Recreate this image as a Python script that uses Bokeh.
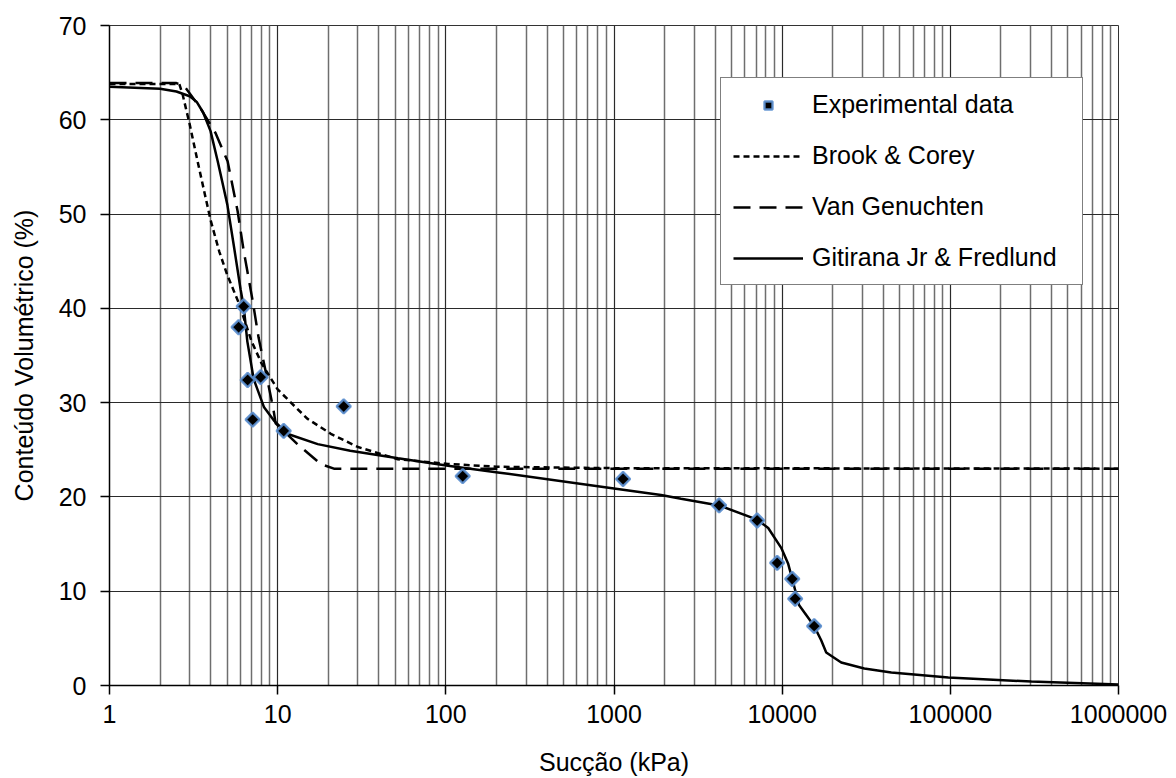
from bokeh.plotting import figure
from bokeh.models import (FixedTicker, NumeralTickFormatter, Legend, LegendItem,
                          Range1d, ColumnDataSource)
from bokeh.embed import file_html
from bokeh.resources import INLINE

# ---------------- data ----------------
exp_suction = [5.86, 6.28, 6.63, 7.1, 7.92, 10.86, 24.7, 126, 1132,
               4217, 7100, 9340, 11480, 11950, 15500]
exp_theta = [38.0, 40.2, 32.4, 28.2, 32.7, 27.0, 29.6, 22.2, 21.9,
             19.1, 17.5, 13.0, 11.3, 9.2, 6.3]

bc_suction = [1, 2.6, 2.72, 3.0, 3.34, 3.7, 4.0, 4.5, 5.0, 5.86, 7.0, 8.0,
              10, 15, 20.7, 30, 51.8, 103, 200, 1000, 1000000]
bc_theta = [63.8, 63.8, 62.7, 59.5, 55.6, 52.0, 49.3, 46.0, 43.6, 40.6, 36.5,
            34.2, 31.4, 28.3, 26.7, 25.3, 24.0, 23.5, 23.2, 23.05, 23.0]

vg_suction = [1, 2.5, 2.8, 3.0, 3.48, 4.27, 5.04, 5.78, 6.28, 7.1, 7.7, 8.72,
              9.47, 9.73, 13.1, 18.0, 21.6, 1000000]
vg_theta = [63.9, 63.9, 63.5, 62.8, 61.2, 58.6, 55.6, 50.3, 46.1, 40.8, 36.9,
            32.3, 29.1, 27.8, 25.6, 23.5, 23.0, 23.0]

gf_suction = [1, 2, 2.5, 3.0, 3.3, 3.6, 3.99, 4.4, 5.02, 5.47, 6.02, 6.28, 6.6,
              7.2, 8.3, 9.5, 11.4, 17.3, 27, 52, 103, 204, 1000, 1905, 2505,
              4217, 7100, 8260, 9870, 10860, 11480, 12620, 15500, 17060, 18280,
              22450, 30770, 44560, 97300, 303000, 1000000]
gf_theta = [63.5, 63.3, 63.0, 62.5, 61.9, 60.8, 58.8, 55.6, 51.0, 46.8, 42.0,
            40.2, 36.5, 32.5, 29.5, 28.1, 26.7, 25.6, 24.9, 24.1, 23.3, 22.6,
            20.9, 20.2, 19.8, 19.1, 17.6, 16.7, 14.6, 12.9, 11.3, 8.5, 6.3, 4.8,
            3.5, 2.44, 1.8, 1.38, 0.85, 0.42, 0.1]

x_major = [1, 10, 100, 1000, 10000, 100000, 1000000]
y_major = [0, 10, 20, 30, 40, 50, 60, 70]
legend_labels = ["Experimental data", "Brook & Corey", "Van Genuchten",
                 "Gitirana Jr & Fredlund"]

FONT = "Liberation Sans"
FS = "25px"

p = figure(width=1176, height=778, x_axis_type="log",
           x_range=Range1d(1, 1000000), y_range=Range1d(0, 70),
           output_backend="svg", toolbar_location=None,
           min_border_left=109, min_border_right=58,
           min_border_top=25, min_border_bottom=93)
p.background_fill_color = "white"
p.border_fill_color = "white"
p.outline_line_color = "#333333"
p.outline_line_width = 1

# ticks
minor = [k * d for d in x_major[:-1] for k in range(2, 10)]
p.xaxis.ticker = FixedTicker(ticks=x_major, minor_ticks=minor)
p.yaxis.ticker = FixedTicker(ticks=y_major)
p.xaxis.formatter = NumeralTickFormatter(format="0")

for ax in (p.xaxis[0], p.yaxis[0]):
    ax.major_label_text_font = FONT
    ax.major_label_text_font_size = FS
    ax.major_label_text_color = "#000000"
    ax.axis_label_text_font = FONT
    ax.axis_label_text_font_size = FS
    ax.axis_label_text_font_style = "normal"
    ax.axis_label_text_color = "#000000"
    ax.axis_line_color = "#000000"
    ax.axis_line_width = 1.5
    ax.major_tick_line_color = "#000000"
    ax.major_tick_line_width = 1.5
    ax.major_tick_in = 0
    ax.major_tick_out = 9
    ax.minor_tick_in = 0
    ax.minor_tick_out = 0

p.xaxis.axis_label = "Sucção (kPa)"
p.yaxis.axis_label = "Conteúdo Volumétrico (%)"
p.yaxis.major_label_standoff = 14
p.yaxis.axis_label_standoff = 18
p.xaxis.major_label_standoff = 10
p.xaxis.axis_label_standoff = 22

# grid
p.xgrid.grid_line_color = "#2a2a2a"
p.xgrid.grid_line_width = 1.2
p.xgrid.minor_grid_line_color = "#6e6e6e"
p.xgrid.minor_grid_line_width = 1.5
p.ygrid.grid_line_color = "#2a2a2a"
p.ygrid.grid_line_width = 1.2

# curves
r_bc = p.line(bc_suction, bc_theta, line_color="black", line_width=2.5,
              line_dash="6 4")
r_vg = p.line(vg_suction, vg_theta, line_color="black", line_width=2.5,
              line_dash="17 9")
r_gf = p.line(gf_suction, gf_theta, line_color="black", line_width=2.5)

src = ColumnDataSource(dict(x=exp_suction, y=exp_theta))
r_exp = p.scatter("x", "y", source=src, marker="square", angle=0.785398,
                  size=10, fill_color="black", line_color="#5b8fd0",
                  line_width=2.4, line_alpha=0.9)

legend = Legend(items=[LegendItem(label=legend_labels[0], renderers=[r_exp]),
                       LegendItem(label=legend_labels[1], renderers=[r_bc]),
                       LegendItem(label=legend_labels[2], renderers=[r_vg]),
                       LegendItem(label=legend_labels[3], renderers=[r_gf])],
                location=(611, 400))
legend.label_text_font = FONT
legend.label_text_font_size = FS
legend.label_text_color = "#000000"
legend.glyph_width = 70
legend.glyph_height = 20
legend.label_height = 20
legend.label_width = 258
legend.label_standoff = 9
legend.spacing = 22
legend.padding = 12
legend.margin = 0
legend.border_line_color = "#000000"
legend.border_line_width = 1.5
legend.background_fill_color = "white"
legend.background_fill_alpha = 1.0
p.add_layout(legend, "center")

open("out.html", "w").write(file_html(p, INLINE))
